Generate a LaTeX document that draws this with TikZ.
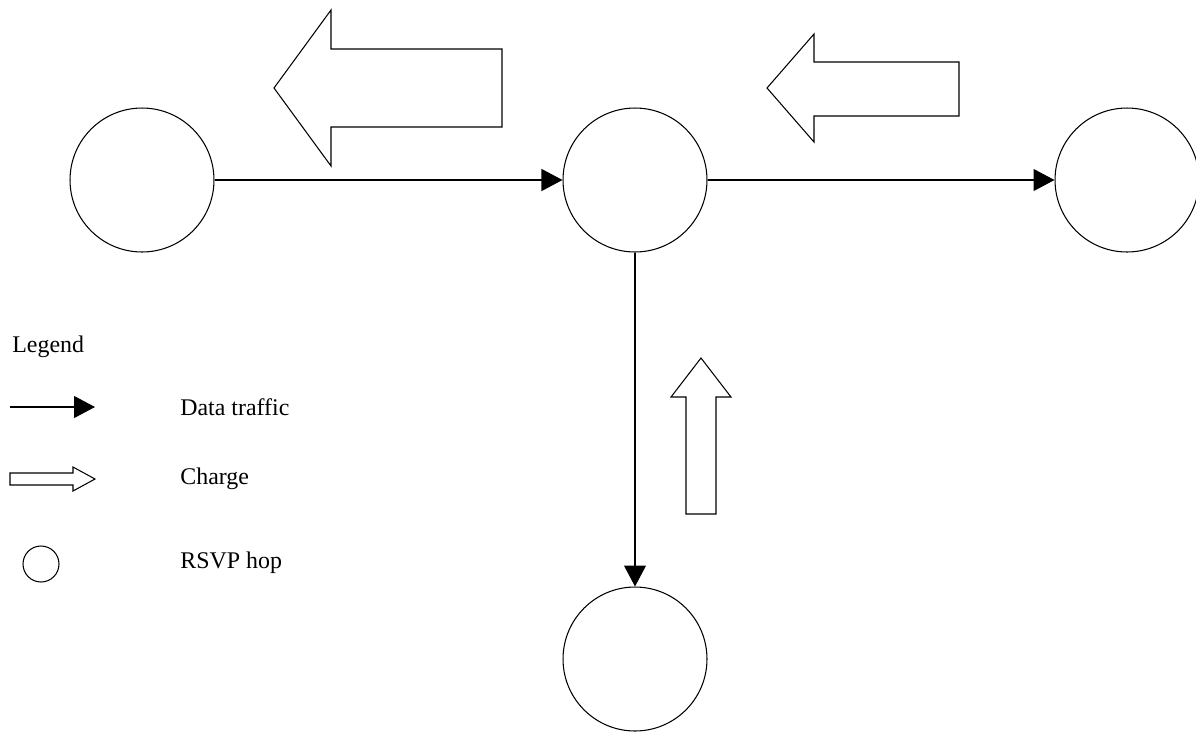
\documentclass[tikz,border=0pt]{standalone}
\usepackage{fontspec}
\setmainfont{Liberation Serif}
\usetikzlibrary{arrows.meta}

\tikzset{
  hop/.style={draw, circle, minimum size=2.88cm, inner sep=0pt},
  smallhop/.style={draw, circle, minimum size=0.72cm, inner sep=0pt},
  traffic/.style={-{Triangle[length=0.42cm,width=0.44cm]}},
  legendtext/.style={anchor=west, font=\fontsize{13.6}{16}\selectfont},
}

\begin{document}
\begin{tikzpicture}[x=0.02cm, y=-0.02cm, line width=0.6pt]
            \useasboundingbox (0,0) rectangle (1196,731);
            % hops
            \node[hop] (h1) at (142,180) {};
            \node[hop] (h2) at (635,180) {};
            \node[hop] (h3) at (1127,180) {};
            \node[hop] (h4) at (635,659) {};
            % data traffic
            \draw[traffic] (h1) -- (h2);
            \draw[traffic] (h2) -- (h3);
            \draw[traffic] (h2) -- (h4);
            % charges
            \draw (274,88) -- (331,10) -- (331,49) -- (502,49) -- (502,127) -- (331,127) -- (331,166) -- cycle;
            \draw (767,88) -- (814,34) -- (814,62) -- (959,62) -- (959,116) -- (814,116) -- (814,142) -- cycle;
            \draw (701,358) -- (731,397) -- (716,397) -- (716,514) -- (686,514) -- (686,397) -- (671,397) -- cycle;
            % legend
            \node[legendtext] (leg) at (6,347) {Legend};
            \coordinate (t1) at (10,407);
            \coordinate (t2) at (95,407);
            \draw[traffic] (t1) -- (t2);
            \node[legendtext] (ltraffic) at (174,407) {Data traffic};
            \draw (10,473) -- (73,473) -- (73,467) -- (95,479) -- (73,491) -- (73,485) -- (10,485) -- cycle;
            \node[legendtext] (lcharge) at (174,479) {Charge};
            \node[smallhop] (lhop) at (41,564) {};
            \node[legendtext] (lrsvp) at (174,563) {RSVP hop};
        \end{tikzpicture}
\end{document}
